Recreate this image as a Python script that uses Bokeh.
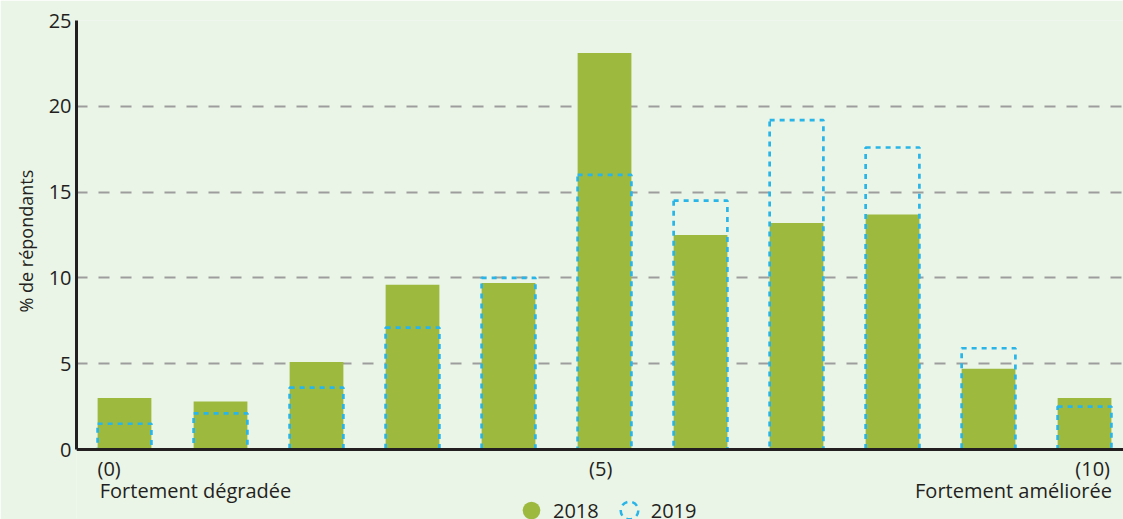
from bokeh.plotting import figure
from bokeh.models import Range1d, Legend, LegendItem, LinearAxis, FixedTicker, Title
from bokeh.embed import file_html
from bokeh.resources import INLINE

# ---- data ----
categories = list(range(11))
values_2018 = [3.0, 2.8, 5.1, 9.6, 9.7, 23.1, 12.5, 13.2, 13.7, 4.7, 3.0]
values_2019 = [1.5, 2.1, 3.6, 7.1, 10.0, 16.0, 14.5, 19.2, 17.6, 5.9, 2.5]
series_names = ["2018", "2019"]
y_ticks = [0, 5, 10, 15, 20, 25]
y_label = "% de répondants"
scale_labels = ["(0)", "(5)", "(10)"]
end_labels = ["Fortement dégradée", "Fortement améliorée"]

BG = "#EAF4E7"
GREEN = "#9DBA3F"
BLUE = "#29B5E8"
INK = "#231F20"
FONT = "Open Sans"
FS = "20px"

W, H = 1123, 519
TOP, LEFT = 20, 76
PX_PER_UNIT = 17.16          # vertical scale of the reference
y_min = -(H - 449) / PX_PER_UNIT   # room under the baseline for labels and legend

p = figure(width=W, height=H, output_backend="svg", toolbar_location=None,
           x_range=Range1d(-0.5, 10.406), y_range=Range1d(y_min, 25),
           min_border_left=LEFT, min_border_right=0, min_border_top=TOP,
           min_border_bottom=0)
p.background_fill_color = BG
p.border_fill_color = BG
p.outline_line_color = None

bw = 0.56
r18 = p.vbar(x=categories, top=values_2018, width=bw, fill_color=GREEN, line_color=None)
r19 = p.vbar(x=categories, top=values_2019, width=bw, fill_alpha=0,
             line_color=BLUE, line_width=2.7, line_dash="5 5")

# legend glyphs (zero-size markers on the bar tops; legend draws them at its own size)
l18 = p.scatter(x=categories, y=values_2018, size=0, marker="circle",
                fill_color=GREEN, line_color=None)
l19 = p.scatter(x=categories, y=values_2019, size=0, marker="circle", fill_alpha=0,
                line_color=BLUE, line_width=2.5, line_dash="6 5")

# primary x axis at y = 0: baseline + scale markers
row1_ticks = [categories[0] - 0.16, categories[5] - 0.04, categories[10] + 0.085]
xa = p.xaxis[0]
xa.fixed_location = 0
xa.ticker = FixedTicker(ticks=row1_ticks)
xa.major_label_overrides = {t: s for t, s in zip(row1_ticks, scale_labels)}
xa.axis_line_width = 3
xa.axis_line_color = INK
xa.major_tick_line_color = None
xa.minor_tick_line_color = None
xa.major_tick_out = 0
xa.major_tick_in = 0
xa.minor_tick_out = 0
xa.major_label_standoff = 5
xa.major_label_text_font = FONT
xa.major_label_text_font_size = FS
xa.major_label_text_color = INK
p.xgrid.grid_line_color = None

# second row of x labels
row2_ticks = [categories[0] + 0.74, categories[10] - 0.74]
xa2 = LinearAxis(ticker=FixedTicker(ticks=row2_ticks), fixed_location=0,
                 major_label_overrides={t: s for t, s in zip(row2_ticks, end_labels)},
                 axis_line_color=None, major_tick_line_color=None, minor_tick_line_color=None,
                 major_tick_out=0, major_tick_in=0, minor_tick_out=0,
                 major_label_standoff=27, major_label_text_font=FONT,
                 major_label_text_font_size=FS, major_label_text_color=INK)
p.add_layout(xa2, "below")

ya = p.yaxis[0]
ya.bounds = (0, 25)
ya.ticker = FixedTicker(ticks=y_ticks)
ya.axis_line_width = 3
ya.axis_line_color = INK
ya.major_tick_line_color = None
ya.minor_tick_line_color = None
ya.major_tick_out = 0
ya.major_tick_in = 0
ya.minor_tick_out = 0
ya.major_label_text_font = FONT
ya.major_label_text_font_size = FS
ya.major_label_text_color = INK
ya.major_label_standoff = 5

# y title, placed along the 0-25 span of the axis
p.add_layout(Title(text=y_label, align="left", offset=207, standoff=15,
                   text_font=FONT, text_font_size="18px", text_font_style="normal",
                   text_color=INK), "left")

p.ygrid.ticker = FixedTicker(ticks=y_ticks)
p.ygrid.grid_line_color = "#9D9D9D"
p.ygrid.grid_line_width = 2
p.ygrid.grid_line_dash = "11 11"

legend = Legend(items=[LegendItem(label=series_names[0], renderers=[l18]),
                       LegendItem(label=series_names[1], renderers=[l19])],
                orientation="horizontal", location=(433, -13),
                glyph_width=44, glyph_height=44, label_standoff=-4, spacing=8,
                padding=0, margin=0, background_fill_alpha=0, border_line_color=None,
                label_text_font=FONT, label_text_font_size=FS, label_text_color=INK)
p.add_layout(legend, "center")

open("out.html", "w").write(file_html(p, INLINE))
